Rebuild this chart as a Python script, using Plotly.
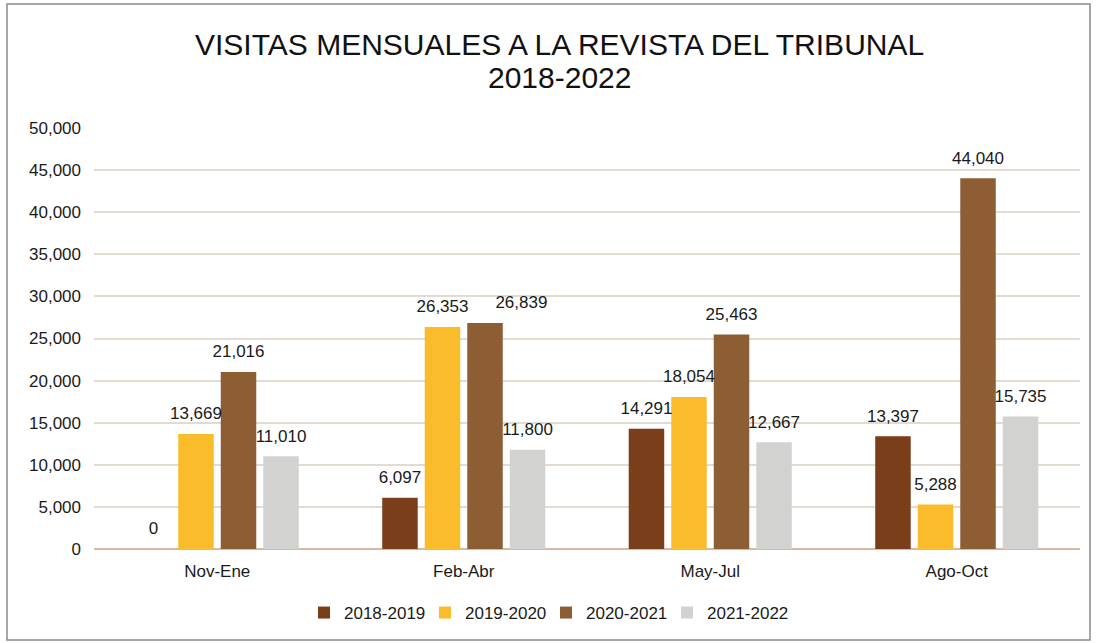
import plotly.graph_objects as go

categories = ["Nov-Ene", "Feb-Abr", "May-Jul", "Ago-Oct"]
series_names = ["2018-2019", "2019-2020", "2020-2021", "2021-2022"]
v_2018_2019 = [0, 6097, 14291, 13397]
v_2019_2020 = [13669, 26353, 18054, 5288]
v_2020_2021 = [21016, 26839, 25463, 44040]
v_2021_2022 = [11010, 11800, 12667, 15735]
colors = ["#7A3E1B", "#FBBC2B", "#8D5D33", "#D2D2D0"]
y_ticks = [0, 5000, 10000, 15000, 20000, 25000, 30000, 35000, 40000, 45000, 50000]
title_line1 = "VISITAS MENSUALES A LA REVISTA DEL TRIBUNAL"
title_line2 = "2018-2022"
# label placement per series (the 2020-2021 Feb-Abr label sits to the right in the original)
label_positions = [
    ["top center"] * 4,
    ["top center"] * 4,
    ["top center", "top right", "top center", "top center"],
    ["top center"] * 4,
]

FONT = "Liberation Sans, Arial"
L, R, T, B = 94, 17, 128, 94
PW, PH = 1097 - L - R, 643 - T - B
GAP = 0.31


def px_x(p):
    return (p - L) / PW


def px_y(p):
    return (643 - B - p) / PH


fig = go.Figure()
all_vals = [v_2018_2019, v_2019_2020, v_2020_2021, v_2021_2022]
for name, vals, col in zip(series_names, all_vals, colors):
    fig.add_trace(go.Bar(
        x=categories, y=vals, name=name,
        marker=dict(color=col, line=dict(width=0)),
    ))
for name, vals, pos in zip(series_names, all_vals, label_positions):
    fig.add_trace(go.Scatter(
        x=categories, y=vals, name=name, mode="markers+text", showlegend=False,
        marker=dict(size=15, color="rgba(0,0,0,0)"),
        text=[f"{v:,}" for v in vals], textposition=pos,
        textfont=dict(size=17, color="#1a1a1a", family=FONT),
        cliponaxis=False, hoverinfo="skip",
    ))

fig.update_layout(
    width=1097, height=643,
    paper_bgcolor="white", plot_bgcolor="white",
    margin=dict(l=L, r=R, t=T, b=B),
    barmode="group", bargap=GAP, bargroupgap=0.165,
    scattermode="group", scattergap=GAP,
    font=dict(family=FONT, color="#1a1a1a", size=17),
    showlegend=True,
    legend=dict(orientation="h", x=px_x(304), xanchor="left", y=px_y(613), yanchor="middle",
                font=dict(size=17, color="#1a1a1a"), traceorder="normal",
                entrywidth=76, entrywidthmode="pixels"),
    annotations=[
        dict(text=title_line1, xref="paper", yref="paper", x=px_x(559.5), y=px_y(44),
             xanchor="center", yanchor="middle", showarrow=False,
             font=dict(size=30, color="#111111", family=FONT)),
        dict(text=title_line2, xref="paper", yref="paper", x=px_x(559.5), y=px_y(77),
             xanchor="center", yanchor="middle", showarrow=False,
             font=dict(size=30, color="#111111", family=FONT)),
    ],
    shapes=[dict(type="rect", xref="paper", yref="paper",
                 x0=px_x(7), x1=px_x(1090), y0=px_y(640), y1=px_y(4),
                 line=dict(color="#8A8A8A", width=1.5), fillcolor="rgba(0,0,0,0)", layer="below")],
)
fig.update_yaxes(range=[0, 50000], tickvals=y_ticks, tickformat=",", showgrid=True,
                 gridcolor="#E3DAD2", gridwidth=1.5, zeroline=True, zerolinecolor="#D9B8A8",
                 zerolinewidth=1.5, ticks="", tickfont=dict(size=17), ticklabelstandoff=12)
fig.update_xaxes(showline=False, ticks="", tickfont=dict(size=17), ticklabelstandoff=10)

fig.write_html("out.html", config={"displayModeBar": False},
               post_script="document.body.style.margin='0';")
